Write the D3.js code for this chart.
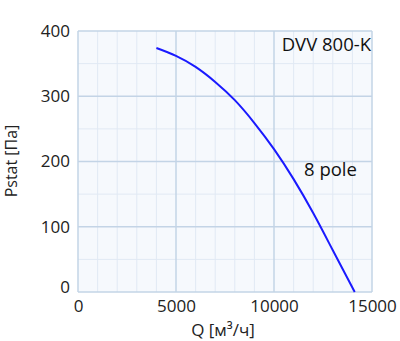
<!DOCTYPE html>
<html><head><meta charset="utf-8">
<script src="https://cdn.jsdelivr.net/npm/d3@7"></script>
<style>body{margin:0;background:#fff}svg{display:block}</style>
</head><body>
<script>
const flow = [4000, 5000, 6000, 7000, 8000, 9000, 10000, 11000, 12000, 13000, 14120];
const pressure = [374, 362, 345, 322, 294, 259, 219, 173, 121, 64, 0];
const xTicks = [0, 5000, 10000, 15000];
const yTicks = [0, 100, 200, 300, 400];
const title = "DVV 800-K";
const seriesLabel = "8 pole";
const xLabel = "Q [м³/ч]";
const yLabel = "Pstat [Па]";

const W = 400, H = 341;
const m = {l: 78, r: 28, t: 31, b: 49};
const svg = d3.select("body").append("svg").attr("width", W).attr("height", H);
const x = d3.scaleLinear().domain([0, 15000]).range([m.l, W - m.r]);
const y = d3.scaleLinear().domain([0, 400]).range([H - m.b, m.t]);
const font = "'Open Sans', sans-serif";

svg.append("rect").attr("x", x(0)).attr("y", y(400)).attr("width", x(15000) - x(0)).attr("height", y(0) - y(400)).attr("fill", "#f6f9fd");

const g = svg.append("g");
g.selectAll(".mx").data(d3.range(1000, 15000, 1000).filter(v => v % 5000)).enter().append("line")
  .attr("x1", d => x(d)).attr("x2", d => x(d)).attr("y1", y(0)).attr("y2", y(400))
  .attr("stroke", "#e1e9f4").attr("stroke-width", 1);
g.selectAll(".my").data(d3.range(50, 400, 50).filter(v => v % 100)).enter().append("line")
  .attr("y1", d => y(d)).attr("y2", d => y(d)).attr("x1", x(0)).attr("x2", x(15000))
  .attr("stroke", "#e1e9f4").attr("stroke-width", 1);
g.selectAll(".Mx").data(xTicks).enter().append("line")
  .attr("x1", d => x(d)).attr("x2", d => x(d)).attr("y1", y(0)).attr("y2", y(400))
  .attr("stroke", "#c3d4e6").attr("stroke-width", 1.5);
g.selectAll(".My").data(yTicks).enter().append("line")
  .attr("y1", d => y(d)).attr("y2", d => y(d)).attr("x1", x(0)).attr("x2", x(15000))
  .attr("stroke", "#c3d4e6").attr("stroke-width", 1.5);

const xa = d3.axisBottom(x).tickValues(xTicks).tickFormat(d3.format("d")).tickSize(0).tickPadding(8);
svg.append("g").attr("transform", `translate(0,${y(0)})`).call(xa)
  .call(s => s.select(".domain").remove())
  .selectAll("text").attr("font-family", font).attr("font-size", 17).attr("fill", "#222");
const ya = d3.axisLeft(y).tickValues(yTicks).tickFormat(d3.format("d")).tickSize(0).tickPadding(8);
svg.append("g").attr("transform", `translate(${x(0)},0)`).call(ya)
  .call(s => s.select(".domain").remove())
  .selectAll("text").attr("font-family", font).attr("font-size", 17).attr("fill", "#222")
  .attr("dy", d => d === 0 ? "0.05em" : "0.32em");

const line = d3.line().x((d, i) => x(flow[i])).y(d => y(d)).curve(d3.curveNatural);
svg.append("path").attr("d", line(pressure)).attr("fill", "none").attr("stroke", "#1a1aff").attr("stroke-width", 2);

svg.append("text").attr("x", x(15000) - 1).attr("y", 51).attr("text-anchor", "end")
  .attr("font-family", font).attr("font-size", 18.5).attr("fill", "#111").text(title);
svg.append("text").attr("x", 304).attr("y", 176)
  .attr("font-family", font).attr("font-size", 18.5).attr("fill", "#111").text(seriesLabel);
svg.append("text").attr("x", 223).attr("y", 336).attr("text-anchor", "middle")
  .attr("font-family", font).attr("font-size", 17).attr("fill", "#222").text(xLabel);
svg.append("text").attr("transform", "translate(17,161) rotate(-90)").attr("text-anchor", "middle")
  .attr("font-family", font).attr("font-size", 16).attr("fill", "#222").text(yLabel);
</script>
</body></html>
